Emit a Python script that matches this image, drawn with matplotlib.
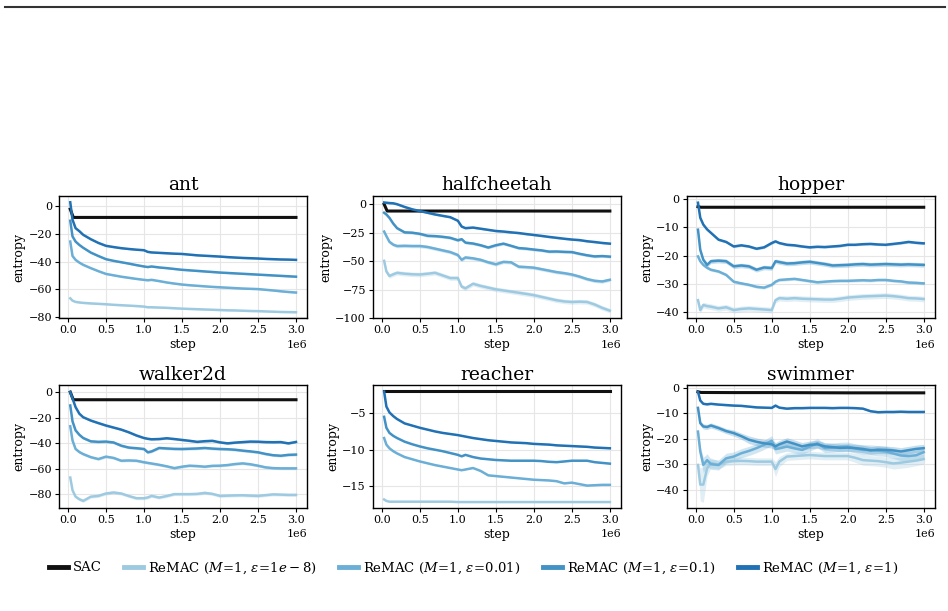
import numpy as np
import matplotlib
matplotlib.use('Agg')
from matplotlib import pyplot as plt
from matplotlib.lines import Line2D

plt.rcParams['font.family'] = 'serif'
plt.rcParams['font.serif'] = ['DejaVu Serif']
plt.rcParams['mathtext.fontset'] = 'dejavuserif'

# training steps (in millions) at which the curves were read
steps = [0.03, 0.06, 0.1, 0.15, 0.2, 0.3, 0.4, 0.5, 0.6, 0.7, 0.8, 0.9, 1.0, 1.05, 1.1, 1.2, 1.3,
         1.4, 1.5, 1.6, 1.7, 1.8, 1.9, 2.0, 2.1, 2.2, 2.3, 2.4, 2.5, 2.6, 2.7, 2.8, 2.9, 3.0]
sac_steps = [0.03, 0.07, 0.5, 1.0, 1.5, 2.0, 2.5, 3.0]

envs = ['ant', 'halfcheetah', 'hopper', 'walker2d', 'reacher', 'swimmer']
labels = ['SAC',
          r'ReMAC ($M\!=\!1$, $\varepsilon\!=\!1e-8$)',
          r'ReMAC ($M\!=\!1$, $\varepsilon\!=\!0.01$)',
          r'ReMAC ($M\!=\!1$, $\varepsilon\!=\!0.1$)',
          r'ReMAC ($M\!=\!1$, $\varepsilon\!=\!1$)']
colors = ['#111111', '#9ecae1', '#6baed6', '#4292c6', '#2171b5']

# ---- ant
ant_sac = [-2, -8, -8, -8, -8, -8, -8, -8]
ant_e1e8 = [-66.7, -68.4, -69.3, -69.7, -70, -70.4, -70.7, -71, -71.4, -71.7, -72, -72.3, -72.7, -73.2, -73.2,
            -73.4, -73.6, -73.9, -74.2, -74.4, -74.6, -74.8, -75, -75.2, -75.4, -75.5, -75.7, -75.9, -76,
            -76.2, -76.4, -76.6, -76.7, -76.8]
ant_e001 = [-25.5, -36, -38.8, -40.8, -42.4, -44.8, -47, -49, -50, -51, -51.8, -52.6, -53.3, -53.6, -53.3,
            -54.2, -55.2, -56, -56.7, -57.2, -57.6, -58, -58.4, -58.7, -59, -59.3, -59.6, -59.8, -60, -60.5,
            -61, -61.6, -62.1, -62.5]
ant_e01 = [-10.4, -21.8, -25.5, -28, -30, -33.5, -36, -38.3, -39.5, -40.5, -41.5, -42.6, -43.6, -44, -43.6,
           -44.3, -44.8, -45.4, -46, -46.4, -46.8, -47.2, -47.6, -48, -48.3, -48.6, -48.9, -49.2, -49.5,
           -49.8, -50.1, -50.4, -50.7, -51]
ant_e1 = [3, -9.7, -15.8, -18, -20.6, -23.8, -26.5, -28.6, -29.5, -30.3, -30.9, -31.4, -31.8, -33, -33.4,
          -33.7, -34, -34.3, -34.5, -35, -35.5, -35.8, -36.1, -36.4, -36.8, -37.1, -37.4, -37.6, -37.8,
          -38.1, -38.3, -38.5, -38.6, -38.8]
ant_std = [0.3, 0.5, 0.5, 0.5, 0.5]

# ---- halfcheetah
hc_sac = [0, -6, -6, -6, -6, -6, -6, -6]
hc_e1e8 = [-49.7, -59, -63, -61.5, -60.2, -61, -61.5, -61.7, -61, -60.2, -62.5, -64.8, -64.8, -72.3, -73.8,
           -69.8, -71.7, -73.2, -74.7, -75.7, -76.7, -77.7, -78.7, -79.8, -81.3, -82.8, -84.3, -85.3, -85.8,
           -85.5, -85.8, -88, -91, -93.4]
hc_e001 = [-24, -28, -33, -35.5, -36.7, -36.5, -36.7, -36.7, -37.5, -39, -40.5, -42, -44.6, -48.8, -46.7,
           -47.5, -48.8, -51, -52.7, -50.6, -51, -54.8, -55.2, -55.7, -57, -58.3, -59.6, -60.5, -61.7, -63.5,
           -65.7, -67.2, -67.8, -66.3]
hc_e01 = [-7.5, -9, -12, -17, -21, -24.7, -25, -26, -27.7, -28, -28.6, -29.5, -31.6, -30.7, -33.7, -34.5,
          -36, -38, -36, -34.6, -36.5, -38.5, -39, -39.8, -40.5, -41.6, -41.5, -41.8, -42, -43.5, -44.8,
          -45.8, -45.5, -46]
hc_e1 = [1.5, 1.3, 1, 0.8, 0, -2.4, -4.5, -6, -7.5, -9, -10.2, -11.4, -14.5, -19.6, -21, -20.5, -21.5, -22.5,
         -23.5, -24, -24.7, -25.3, -26.2, -27, -27.8, -28.7, -29.5, -30.3, -31, -31.5, -32.5, -33.2, -34,
         -34.6]
hc_std = [0.3, 2.0, 1.5, 1.2, 0.8]

# ---- hopper
hop_sac = [-2.8, -3, -3, -3, -3, -3, -3, -3]
hop_e1e8 = [-35.7, -39.2, -37.4, -37.8, -38, -38.6, -38.2, -39.2, -38.8, -38.6, -38.8, -39, -39.2, -35.7,
            -35, -35.2, -35, -35.2, -35.3, -35.4, -35.5, -35.5, -35.2, -34.8, -34.6, -34.4, -34.3, -34.2,
            -34.1, -34.3, -34.6, -35, -35.1, -35.3]
hop_e001 = [-20.3, -22, -23.3, -24.3, -25, -25.6, -26.8, -29.2, -29.8, -30.3, -31, -31.3, -30.3, -29.2,
            -28.6, -28.4, -28.2, -28.6, -29, -29.4, -29.2, -29, -28.9, -28.9, -28.8, -28.7, -28.8, -28.6,
            -28.6, -28.9, -29.1, -29.5, -29.6, -29.8]
hop_e01 = [-10.9, -18, -21.5, -23.3, -22, -21.8, -22, -23.8, -23.5, -23.8, -25, -24.2, -24.4, -22, -22.3,
           -22.8, -22.7, -22.4, -22.2, -22.6, -23, -23.5, -23.4, -23.3, -23.1, -23, -23.2, -23.1, -23,
           -23.1, -23.2, -23.1, -23.2, -23.3]
hop_e1 = [-1.4, -6.7, -9.1, -10.8, -12, -14.4, -15.2, -16.8, -16.4, -16.8, -17.6, -17.1, -15.6, -15, -15.6,
          -16.2, -16.4, -16.8, -17.1, -16.9, -17, -16.8, -16.6, -16.2, -16.2, -16, -15.9, -16.1, -16.2,
          -15.9, -15.6, -15.2, -15.5, -15.7]
hop_std = [0.1, 1.0, 0.5, 0.8, 0.4]

# ---- walker2d
wk_sac = [0, -6, -6, -6, -6, -6, -6, -6]
wk_e1e8 = [-67, -77, -82, -84, -85.3, -82, -81.4, -79.5, -78.7, -79.5, -81.5, -83.2, -83.2, -82.6, -81.4,
           -82.7, -81.5, -80, -80, -80, -79.8, -79, -79.8, -81.4, -81.2, -81, -80.9, -81.2, -81.4, -80.8,
           -80.2, -80.4, -80.6, -80.6]
wk_e001 = [-26.8, -38, -44.6, -47, -48.6, -51, -52.5, -50.6, -51.6, -53.8, -53.6, -53.8, -55, -55.5, -56,
           -57, -58.2, -59.6, -58.5, -57.7, -58, -58.5, -57.8, -57.7, -57.2, -56.4, -55.9, -56.6, -57.7,
           -59, -59.6, -59.8, -59.8, -59.8]
wk_e01 = [-10.5, -23, -30, -33.5, -36, -38.6, -39, -38.8, -39.5, -42, -43.5, -44, -44.6, -47.2, -46.5,
          -43.8, -44.2, -44.5, -44.6, -44.4, -44.2, -43.8, -44.3, -44.6, -44.8, -45.2, -45.9, -46.5, -47.2,
          -48.5, -49.5, -49.9, -49.2, -49]
wk_e1 = [0, -5, -11.8, -17, -19.7, -22.3, -24.3, -26.2, -27.8, -29.4, -31.5, -34, -36, -36.6, -37, -36.8,
         -36.2, -36.8, -37.5, -38.2, -39, -38.5, -38.2, -39.4, -40.2, -39.6, -39.2, -38.8, -38.9, -39.2,
         -39.3, -39.2, -40.2, -39.1]
wk_std = [0.3, 1.2, 1.0, 1.0, 0.8]

# ---- reacher
re_sac = [-2.0, -2.0, -2.0, -2.0, -2.0, -2.0, -2.0, -2.0]
re_e1e8 = [-16.8, -17.0, -17.1, -17.1, -17.1, -17.1, -17.1, -17.1, -17.1, -17.1, -17.1, -17.1, -17.15,
           -17.15, -17.15, -17.15, -17.15, -17.15, -17.15, -17.15, -17.15, -17.15, -17.15, -17.15, -17.15,
           -17.15, -17.15, -17.15, -17.15, -17.15, -17.15, -17.15, -17.15, -17.15]
re_e001 = [-8.4, -9.3, -9.8, -10.2, -10.5, -11, -11.3, -11.6, -11.85, -12.1, -12.3, -12.5, -12.7, -12.8,
           -12.7, -12.5, -12.9, -13.5, -13.6, -13.7, -13.8, -13.9, -14, -14.1, -14.15, -14.2, -14.3, -14.6,
           -14.5, -14.7, -14.9, -14.85, -14.8, -14.8]
re_e01 = [-5.5, -7.0, -7.7, -8.1, -8.4, -8.9, -9.25, -9.55, -9.8, -10.0, -10.2, -10.45, -10.7, -10.9,
          -10.7, -11.0, -11.2, -11.3, -11.4, -11.45, -11.5, -11.5, -11.5, -11.5, -11.55, -11.65, -11.7,
          -11.6, -11.5, -11.5, -11.5, -11.7, -11.8, -11.9]
re_e1 = [-2.05, -4.1, -4.9, -5.4, -5.8, -6.4, -6.7, -7.0, -7.25, -7.5, -7.7, -7.85, -8.0, -8.1, -8.2, -8.4,
         -8.55, -8.7, -8.8, -8.9, -9.0, -9.05, -9.1, -9.2, -9.25, -9.3, -9.4, -9.45, -9.5, -9.55, -9.6,
         -9.7, -9.75, -9.8]
re_std = [0.02, 0.05, 0.05, 0.05, 0.05]

# ---- swimmer
sw_sac = [-1.6, -1.85, -1.9, -1.9, -1.95, -2.0, -2.0, -2.0]
sw_e1e8 = [-30.3, -38, -38, -31.7, -29.5, -30.3, -29, -28.8, -28.7, -28.8, -29, -29, -29, -31.9, -29, -27,
           -26.8, -26.6, -26.4, -26.6, -26.8, -26.8, -26.8, -26.8, -27.5, -28.4, -28.6, -28.8, -29.2, -29.7,
           -29.4, -29, -28.6, -28]
sw_e001 = [-17.2, -25, -30.3, -28.4, -30, -30.3, -27.7, -27, -25.7, -24.8, -23.7, -22.4, -20.8, -24, -23.8,
           -23.1, -23.8, -24.4, -23.1, -21.8, -23.7, -23.5, -23.2, -23.1, -23.8, -24.4, -24.4, -24.7, -25,
           -25.8, -26.6, -26.8, -26.5, -25.3]
sw_e01 = [-7.9, -13.9, -15.2, -15.4, -14.8, -15.8, -17, -17.8, -19, -20.4, -21.2, -21.8, -22.2, -23.0, -22.2,
          -21.1, -22, -23, -22.4, -22.2, -23, -23.3, -23.6, -23.5, -23.7, -24, -24.6, -24.3, -24.4, -24.6,
          -25, -24.5, -24, -23.7]
sw_e1 = [-1.6, -5, -6.3, -6.5, -6.3, -6.6, -6.8, -7, -7.1, -7.4, -7.7, -7.8, -7.9, -7.0, -7.8, -8.2, -8.0,
         -8.0, -7.9, -7.9, -7.9, -8.0, -7.9, -7.9, -8.0, -8.2, -9.2, -9.6, -9.5, -9.5, -9.4, -9.5, -9.5, -9.5]
sw_std_e1e8 = [1, 6.5, 7, 3, 2, 1.5, 1.5, 1.5, 1.5, 1.5, 1.5, 1.5, 1.5, 3, 2, 1.5, 1.5, 1.5, 1.5, 1.5, 1.5,
               1.5, 1.5, 1.5, 1.8, 2, 2, 2, 2, 2.2, 2.2, 2.2, 2, 2]
sw_std_e001 = [1, 2, 3, 2.5, 2, 2, 2, 1.8, 1.8, 1.8, 1.8, 1.8, 2, 2, 1.8, 1.8, 1.8, 1.8, 1.8, 1.8, 1.8, 1.8,
               1.8, 1.8, 1.8, 2, 2, 2, 2, 2, 2, 2, 2, 2]
sw_std_e01 = [0.5, 1, 1, 1, 1, 1, 1, 1.2, 1.2, 1.5, 1.5, 1.5, 1.5, 1.5, 1.5, 1.5, 1.5, 1.5, 1.5, 1.5, 1.5,
              1.5, 1.5, 1.5, 1.5, 1.5, 1.5, 1.5, 1.5, 1.5, 1.5, 1.5, 1.5, 1.5]
sw_std = [0.1, sw_std_e1e8, sw_std_e001, sw_std_e01, 0.3]

env_data = {
    'ant': ([ant_sac, ant_e1e8, ant_e001, ant_e01, ant_e1], ant_std),
    'halfcheetah': ([hc_sac, hc_e1e8, hc_e001, hc_e01, hc_e1], hc_std),
    'hopper': ([hop_sac, hop_e1e8, hop_e001, hop_e01, hop_e1], hop_std),
    'walker2d': ([wk_sac, wk_e1e8, wk_e001, wk_e01, wk_e1], wk_std),
    'reacher': ([re_sac, re_e1e8, re_e001, re_e01, re_e1], re_std),
    'swimmer': ([sw_sac, sw_e1e8, sw_e001, sw_e01, sw_e1], sw_std),
}

fig, axes = plt.subplots(2, 3, figsize=(9.48, 6.11), dpi=100)
fig.subplots_adjust(left=0.0622, right=0.9863, top=0.6792, bottom=0.1686, wspace=0.264, hspace=0.547)

x = np.array(steps) * 1e6
xs = np.array(sac_steps) * 1e6
for ax, env in zip(axes.flat, envs):
    series, stds = env_data[env]
    for i, (vals, sd) in enumerate(zip(series, stds)):
        xx = xs if i == 0 else x
        y = np.array(vals, dtype=float)
        sd = np.broadcast_to(np.array(sd, dtype=float), y.shape)
        ax.fill_between(xx, y - sd, y + sd, color=colors[i], alpha=0.3, linewidth=0)
        ax.plot(xx, y, color=colors[i], lw=2.2 if i == 0 else 1.8, label=labels[i])
    ax.set_title(env, fontsize=13.5, pad=4)
    ax.set_xlabel('step', fontsize=9, labelpad=2)
    ax.set_ylabel('entropy', fontsize=9, labelpad=2)
    ax.tick_params(axis='both', labelsize=8, length=3, width=0.8, pad=2)
    ax.xaxis.get_offset_text().set_fontsize(8)
    ax.set_xticks([0, 0.5e6, 1e6, 1.5e6, 2e6, 2.5e6, 3e6])
    ax.grid(True, color='#e6e6e6', linewidth=0.8)
    ax.set_axisbelow(True)
    for s in ax.spines.values():
        s.set_linewidth(1.0)

handles, leg_labels = axes[0, 0].get_legend_handles_labels()
leg = fig.legend(handles, leg_labels, loc='center', bbox_to_anchor=(0.5, 0.0704), ncol=5,
                 frameon=False, fontsize=9.5, handlelength=1.4, columnspacing=1.7, handletextpad=0.4)
for line in leg.get_lines():
    line.set_linewidth(3.5)

# rule at the top of the page
fig.add_artist(Line2D([0.005, 0.997], [0.988, 0.988], color='#333333', lw=1.5, transform=fig.transFigure))

fig.savefig('out.png', dpi=100)
